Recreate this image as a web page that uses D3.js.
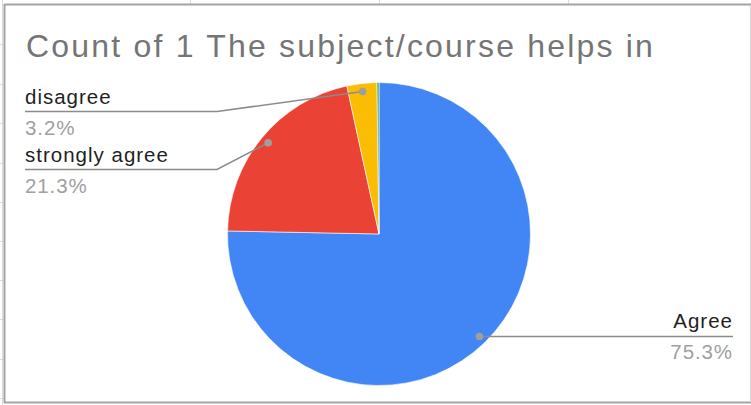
<!DOCTYPE html>
<html>
<head>
<meta charset="utf-8">
<script src="https://cdn.jsdelivr.net/npm/d3@7"></script>
<style>
  html, body { margin: 0; padding: 0; background: #fff; }
  svg { display: block; }
</style>
</head>
<body>
<svg id="chart" width="751" height="405"></svg>
<script>
// ---- data ----
const title = "Count of 1 The subject/course helps in";
const categories = ["Agree", "strongly agree", "disagree", "strongly disagree"];
const counts = [354, 100, 15, 1];
const colors = ["#4285f4", "#ea4335", "#fbbc04", "#34a853"];
const showLabel = [true, true, true, false];
const labelSide = ["right", "left", "left", null];

// ---- layout ----
const W = 751, H = 405;
const cx = 379, cy = 234, R = 151.5;
const svg = d3.select("#chart");

// spreadsheet gridlines peeking around chart
const grid = svg.append("g").attr("stroke", "#dadada").attr("stroke-width", 1);
grid.append("line").attr("x1", 2.5).attr("x2", 2.5).attr("y1", 0).attr("y2", H);
[190.5, 379.5, 568.5].forEach(x => grid.append("line").attr("x1", x).attr("x2", x).attr("y1", 0).attr("y2", 4));
[44, 84, 123, 163, 202, 241, 280, 319, 359, 398].forEach(y => grid.append("line").attr("x1", 0).attr("x2", 4).attr("y1", y + 0.5).attr("y2", y + 0.5));

// chart frame
svg.append("rect").attr("x", 5).attr("y", 5).attr("width", 745).attr("height", 397).attr("fill", "#fff");
svg.append("line").attr("x1", 4).attr("x2", W).attr("y1", 4.5).attr("y2", 4.5).attr("stroke", "#a3a3a3").attr("stroke-width", 2);
svg.append("line").attr("x1", 4.5).attr("x2", 4.5).attr("y1", 4).attr("y2", 403).attr("stroke", "#a3a3a3").attr("stroke-width", 2);
svg.append("line").attr("x1", 4).attr("x2", W).attr("y1", 402.5).attr("y2", 402.5).attr("stroke", "#a3a3a3").attr("stroke-width", 2);
svg.append("line").attr("x1", 750.5).attr("x2", 750.5).attr("y1", 5).attr("y2", 402).attr("stroke", "#d4d4d4").attr("stroke-width", 1);

// title
svg.append("text")
  .attr("x", 26).attr("y", 57)
  .attr("font-family", "Arial, 'Liberation Sans', sans-serif")
  .attr("font-size", 32)
  .attr("letter-spacing", "2.2px")
  .attr("fill", "#757575")
  .text(title);

// pie
const data = categories.map((c, i) => ({ name: c, value: counts[i], color: colors[i], show: showLabel[i], side: labelSide[i] }));
const total = d3.sum(counts);
const pie = d3.pie().value(d => d.value).sort(null);
const arcs = pie(data);
const arc = d3.arc().innerRadius(0).outerRadius(R);
const dotArc = d3.arc().innerRadius(R - 8).outerRadius(R - 8);

const g = svg.append("g").attr("transform", `translate(${cx},${cy})`);
g.selectAll("path").data(arcs).join("path")
  .attr("d", arc)
  .attr("fill", d => d.data.color)
  .attr("stroke", "#fff")
  .attr("stroke-width", 0.6);

// labels
const fmt = v => (v / total * 100).toFixed(1) + "%";
const labelFont = "Arial, 'Liberation Sans', sans-serif";
const lineColor = "#8c8c8c";
const leftLineY = { "disagree": 111.5, "strongly agree": 169.5 };
const leftX = 25, elbowX = 217;

arcs.filter(a => a.data.show).forEach(a => {
  const [dx, dy] = dotArc.centroid(a);
  const px = cx + dx, py = cy + dy;
  let lineY, textX, anchor, pts;
  if (a.data.side === "left") {
    lineY = leftLineY[a.data.name];
    textX = leftX; anchor = "start";
    pts = [[px, py], [elbowX, lineY], [leftX, lineY]];
  } else {
    lineY = py;
    textX = 733; anchor = "end";
    pts = [[px, py], [733, lineY]];
  }
  svg.append("path")
    .attr("d", d3.line()(pts))
    .attr("fill", "none")
    .attr("stroke", lineColor)
    .attr("stroke-width", 1.5);
  svg.append("circle").attr("cx", px).attr("cy", py).attr("r", 3.8).attr("fill", "#9e9e9e");
  svg.append("text")
    .attr("x", textX).attr("y", lineY - 8)
    .attr("text-anchor", anchor)
    .attr("font-family", labelFont).attr("font-size", 20.5)
    .attr("letter-spacing", "1px")
    .attr("fill", "#1f1f1f")
    .text(a.data.name);
  svg.append("text")
    .attr("x", textX).attr("y", lineY + 23)
    .attr("text-anchor", anchor)
    .attr("font-family", labelFont).attr("font-size", 20.5)
    .attr("letter-spacing", "0.9px")
    .attr("fill", "#a0a0a0")
    .text(fmt(a.data.value));
});
</script>
</body>
</html>
